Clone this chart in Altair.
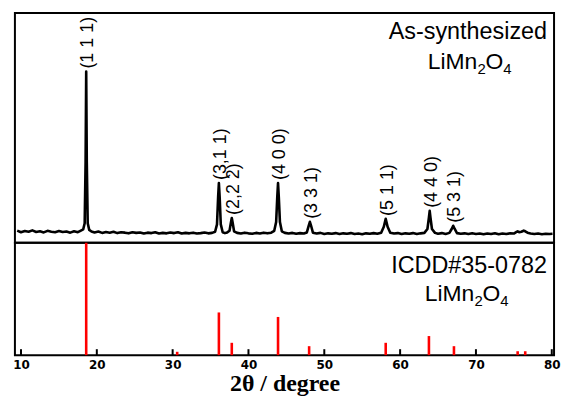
import altair as alt
import pandas as pd

# XRD trace of as-synthesized LiMn2O4 (2theta, intensity in arbitrary units 0-100)
two_theta = [
    9.5, 10.0, 10.5, 11.0, 11.5, 12.0, 12.5, 13.0, 13.5, 14.0, 14.5, 15.0, 15.5, 16.0, 16.5, 17.0, 17.5, 17.9,
    18.2, 18.4, 18.52, 18.6, 18.68, 18.8, 19.0, 19.3, 19.7, 20.2, 20.7, 21.2, 21.7, 22.2, 22.7, 23.2, 23.7,
    24.2, 24.7, 25.2, 25.7, 26.2, 26.7, 27.2, 27.7, 28.2, 28.7, 29.2, 29.7, 30.2, 30.7, 31.2, 31.7, 32.2,
    32.7, 33.2, 33.7, 34.2, 34.7, 35.2, 35.6, 35.85, 36.0, 36.1, 36.2, 36.35, 36.6, 36.9, 37.2, 37.5, 37.7,
    37.8, 37.9, 38.1, 38.5, 39.0, 39.5, 40.0, 40.5, 41.0, 41.5, 42.0, 42.5, 43.0, 43.4, 43.65, 43.8, 43.9,
    44.0, 44.15, 44.4, 44.8, 45.3, 45.8, 46.3, 46.8, 47.3, 47.7, 47.95, 48.1, 48.25, 48.5, 49.0, 49.5, 50.0,
    50.5, 51.0, 51.5, 52.0, 52.5, 53.0, 53.5, 54.0, 54.5, 55.0, 55.5, 56.0, 56.5, 57.0, 57.5, 57.85, 58.1,
    58.35, 58.7, 59.2, 59.7, 60.2, 60.7, 61.2, 61.7, 62.2, 62.7, 63.2, 63.6, 63.8, 63.9, 64.0, 64.2, 64.6,
    65.0, 65.5, 66.0, 66.5, 66.8, 67.0, 67.2, 67.5, 68.0, 68.5, 69.0, 69.5, 70.0, 70.5, 71.0, 71.5, 72.0,
    72.5, 73.0, 73.5, 74.0, 74.5, 75.0, 75.3, 75.5, 75.7, 76.0, 76.3, 76.5, 76.8, 77.2, 77.7, 78.2, 78.7,
    79.2, 79.7, 80.1,
]
intensity = [
    5.3, 4.6, 5.1, 4.8, 5.4, 4.7, 5.0, 4.5, 5.2, 4.8, 4.6, 5.1, 4.7, 4.9, 4.4, 5.0, 4.6, 5.3,
    5.8, 8.5, 35.0, 74.5, 35.0, 8.5, 5.6, 4.9, 4.5, 4.9, 4.3, 4.7, 4.4, 4.8, 4.2, 4.6, 4.4,
    4.1, 4.6, 4.3, 4.5, 4.0, 4.4, 4.2, 4.6, 4.0, 4.3, 4.1, 4.5, 4.2, 4.6, 4.0, 4.3, 4.1,
    4.4, 4.0, 4.2, 4.5, 4.1, 4.3, 4.8, 8.0, 20.0, 26.0, 20.0, 8.0, 4.6, 4.2, 4.5, 5.2, 9.0,
    10.8, 9.0, 5.0, 4.3, 4.0, 4.4, 4.1, 3.9, 4.3, 4.0, 4.4, 4.1, 4.4, 5.2, 9.0, 20.0, 26.0,
    20.0, 9.0, 5.0, 4.3, 4.0, 4.3, 3.9, 4.2, 4.0, 4.5, 7.5, 9.1, 7.5, 4.4, 4.0, 4.3, 3.8,
    4.1, 3.9, 4.2, 3.8, 4.1, 3.9, 4.2, 3.8, 4.0, 3.7, 4.1, 3.9, 4.2, 3.9, 4.4, 7.0, 10.4,
    7.0, 4.4, 4.0, 4.2, 3.8, 4.1, 3.9, 4.2, 3.8, 4.1, 4.3, 6.0, 11.0, 13.9, 11.0, 6.0, 4.3,
    3.9, 4.2, 3.8, 4.3, 6.0, 7.4, 6.0, 4.2, 3.9, 4.1, 3.8, 4.1, 3.8, 4.0, 3.7, 4.0, 3.8,
    4.1, 3.7, 4.0, 3.8, 4.1, 4.0, 4.6, 5.0, 4.6, 4.8, 5.3, 5.0, 4.4, 4.0, 3.8, 4.0, 3.7,
    3.9, 3.8, 3.9,
]

# Peak labels
peak_labels = ["(1 1 1)", "(3,1 1)", "(2,2 2)", "(4 0 0)", "(3 3 1)", "(5 1 1)", "(4 4 0)", "(5 3 1)"]
peak_pos = [18.6, 36.1, 37.8, 43.9, 48.1, 58.1, 63.9, 67.0]
peak_int = [74.5, 26.0, 10.8, 26.0, 9.1, 10.4, 13.9, 7.4]

# ICDD#35-0782 reference sticks
ref_pos = [18.6, 30.6, 36.1, 37.8, 43.9, 48.0, 58.1, 63.8, 67.1, 75.5, 76.5]
ref_int = [100, 3, 38, 11, 34, 8, 11, 17, 8, 3.5, 3.5]

tick_values = [10, 20, 30, 40, 50, 60, 70, 80]

W = 542
H_TOP = 231
H_BOT = 113
XDOM = [9.2, 80.3]

xrd = pd.DataFrame({"tt": two_theta, "I": intensity})
labels = pd.DataFrame({"tt": peak_pos, "I": peak_int, "lab": peak_labels})
ref = pd.DataFrame({"tt": ref_pos, "I": ref_int, "zero": [0] * len(ref_pos)})
ticks = pd.DataFrame({"tt": tick_values})

xs = alt.Scale(domain=XDOM, nice=False, zero=False)
ys_top = alt.Scale(domain=[0, 100], nice=False)
ys_bot = alt.Scale(domain=[0, 100], nice=False)

FONT = "Liberation Sans"

line = alt.Chart(xrd).mark_line(color="black", strokeWidth=2.6, strokeJoin="round").encode(
    x=alt.X("tt:Q", scale=xs, axis=None),
    y=alt.Y("I:Q", scale=ys_top, axis=None),
)
lab = alt.Chart(labels).mark_text(
    angle=270, align="left", baseline="middle", dx=3, dy=2, fontSize=18, font=FONT, color="black"
).encode(
    x=alt.X("tt:Q", scale=xs, axis=None),
    y=alt.Y("I:Q", scale=ys_top, axis=None),
    text="lab:N",
)


def txt(s, x, y, size=23, align="left"):
    return alt.Chart(pd.DataFrame({"t": [s]})).mark_text(
        align=align, baseline="alphabetic", fontSize=size, font=FONT, color="black"
    ).encode(x=alt.value(x), y=alt.value(y), text="t:N")


top_texts = [
    txt("As-synthesized", 535, 26, size=23.5, align="right"),
    txt("LiMn", 415, 56),
    txt("2", 465, 61, size=15),
    txt("O", 473, 56),
    txt("4", 491, 61, size=15),
]
top = alt.layer(line, lab, *top_texts).properties(width=W, height=H_TOP)

sticks = alt.Chart(ref).mark_rule(color="#ff0000", strokeWidth=2.6).encode(
    x=alt.X(
        "tt:Q",
        scale=xs,
        axis=alt.Axis(
            values=tick_values,
            ticks=False,
            tickSize=0,
            domain=False,
            grid=False,
            labelFont="DejaVu Sans",
            labelFontWeight="bold",
            labelFontSize=12,
            labelColor="black",
            labelPadding=4,
            title="2θ / degree",
            titleFont="Liberation Serif",
            titleFontWeight="bold",
            titleFontSize=24,
            titleColor="black",
            titlePadding=2,
        ),
    ),
    y=alt.Y("zero:Q", scale=ys_bot, axis=None),
    y2="I:Q",
)
tick_marks = alt.Chart(ticks).mark_rule(color="black", strokeWidth=2).encode(
    x=alt.X("tt:Q", scale=xs),
    y=alt.value(H_BOT),
    y2=alt.value(H_BOT - 6),
)
bot_texts = [
    txt("ICDD#35-0782", 535, 30, size=23.5, align="right"),
    txt("LiMn", 412, 59),
    txt("2", 462, 64, size=15),
    txt("O", 470, 59),
    txt("4", 488, 64, size=15),
]
bottom = alt.layer(sticks, tick_marks, *bot_texts).properties(width=W, height=H_BOT)

chart = alt.vconcat(top, bottom, spacing=0, bounds="flush").properties(
    padding={"left": 11, "top": 11, "right": 0, "bottom": 0},
    background="white",
).configure_view(stroke="black", strokeWidth=2)

chart.save("out.html", embed_options={"renderer": "svg", "actions": False})
